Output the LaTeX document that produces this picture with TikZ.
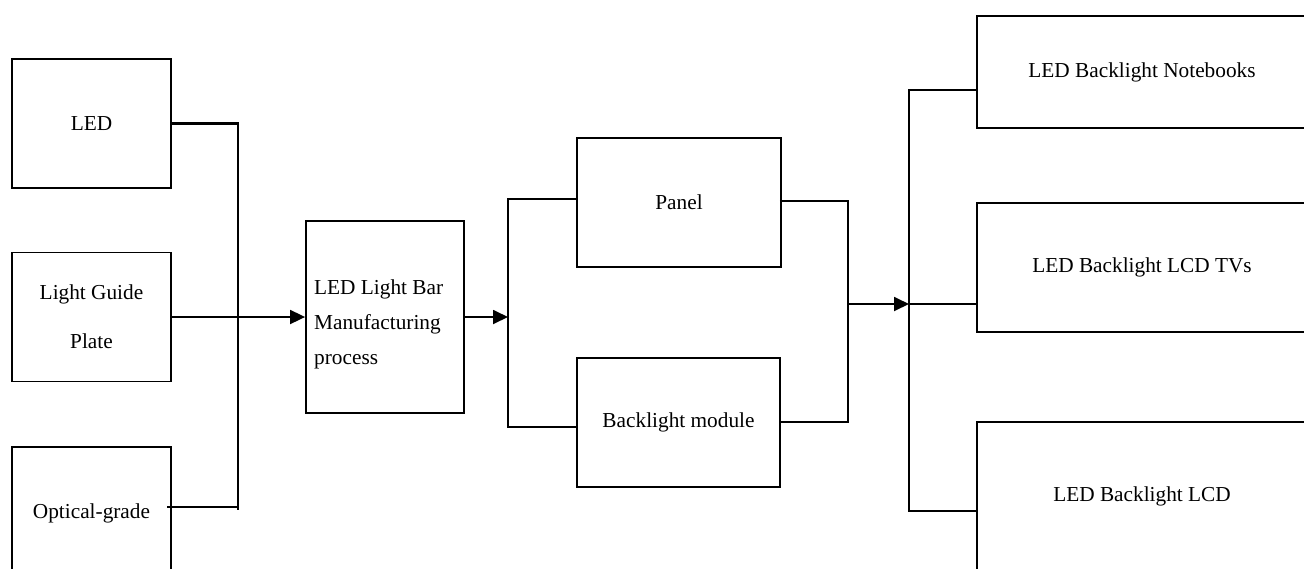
\documentclass[tikz,border=0pt]{standalone}
\usepackage{fontspec}
\setmainfont{Liberation Serif}
\usetikzlibrary{arrows.meta,calc}
\begin{document}
\begin{tikzpicture}[x=1pt,y=-1pt,
  box/.style={draw,line width=1.8pt,rectangle,inner sep=0pt,align=center,
    font=\fontsize{21.3}{25}\selectfont},
  wire/.style={line width=1.8pt},
  flow/.style={line width=1.8pt,-{Triangle[length=15pt,width=14pt]}}]
\useasboundingbox (0,0) rectangle (1304,568);
\fill[white] (0,0) rectangle (1304,568);

% inputs
\node[box,minimum width=159pt,minimum height=129pt] (led) at (91.5,123.5) {LED};
\node[box,minimum width=159pt,minimum height=129pt,
  font=\fontsize{21.3}{49}\selectfont] (lgp) at (91.5,317) {Light Guide\\Plate};
\node[box,minimum width=159pt,minimum height=133pt] (opt) at (91.5,513.5) {Optical-grade};

% process box with its left-aligned caption
\node[box,minimum width=158pt,minimum height=192pt] (bar) at (385,317) {};
\node[anchor=west,inner sep=0pt,align=left,font=\fontsize{21.3}{35}\selectfont]
  (bartxt) at (314,324) {LED Light Bar\\Manufacturing\\process};

% components
\node[box,minimum width=204pt,minimum height=129pt] (panel) at (679,202.5) {Panel};
\node[box,minimum width=203pt,minimum height=129pt] (bm) at (678.5,422.5) {Backlight module};

% applications
\node[box,minimum width=330pt,minimum height=112pt] (nb) at (1142,72) {LED Backlight Notebooks};
\node[box,minimum width=330pt,minimum height=129pt] (tv) at (1142,267.5) {LED Backlight LCD TVs};
\node[box,minimum width=330pt,minimum height=148pt] (lcd) at (1142,496) {LED Backlight LCD};

% input bus
\coordinate (ltop) at (238,123.5);
\coordinate (lbot) at (238,510);
\coordinate (optend) at (167,507);
\draw[line width=2.4pt] (led.east) -- (ltop) -- (lbot);
\draw[wire] (optend) -- (optend -| lbot);
\draw[flow] (lgp.east) -- (bar.west);

% split into panel / backlight module
\coordinate (sx) at (508,317);
\coordinate (stop) at (508,199);
\coordinate (sbot) at (508,427);
\draw[flow] (bar.east) -- (sx);
\draw[wire] (stop -| panel.west) -- (stop) -- (sbot) -- (sbot -| bm.west);

% join
\coordinate (jtop) at (848,201);
\coordinate (jbot) at (848,422);
\coordinate (jmid) at (848,304);
\draw[wire] ([xshift=-2pt]panel.east |- jtop) -- (jtop) -- (jbot) -- (bm.east |- jbot);

% output bus
\coordinate (ox) at (909,304);
\coordinate (otop) at (909,90);
\coordinate (obot) at (909,511);
\draw[flow] (jmid) -- (ox);
\draw[wire] (otop -| nb.west) -- (otop) -- (obot) -- (obot -| lcd.west);
\draw[wire] (ox) -- (ox -| tv.west);
\end{tikzpicture}
\end{document}
